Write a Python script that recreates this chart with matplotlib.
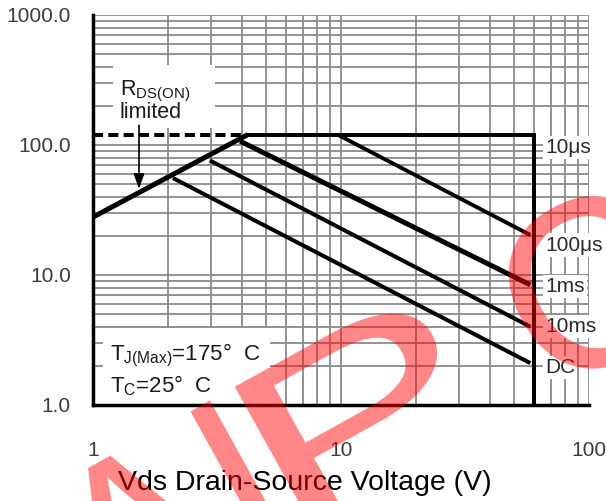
import matplotlib
matplotlib.use("Agg")
import matplotlib.pyplot as plt
from matplotlib.ticker import NullFormatter
from matplotlib.textpath import TextPath
from matplotlib.patches import PathPatch, Rectangle
from matplotlib.font_manager import FontProperties
from matplotlib.transforms import Affine2D

plt.rcParams['font.family'] = ['Liberation Sans', 'DejaVu Sans']
plt.rcParams['mathtext.fontset'] = 'custom'
plt.rcParams['mathtext.rm'] = 'Liberation Sans'
plt.rcParams['mathtext.it'] = 'Liberation Sans:italic'

# ---- SOA data (Vds in V, Id in A) ----
rds_v = [1.0, 4.2]            # RDS(on) limit line
rds_i = [27.9, 120.0]
dash_v = [1.0, 4.2]           # Id(max) extension to the left
dash_i = [120.0, 120.0]
env_v = [4.2, 60.0, 60.0]     # 10us envelope: Id max then BVdss
env_i = [120.0, 120.0, 1.0]

pulse_v = [[9.7, 58.0], [3.92, 58.0], [2.96, 58.0], [2.1, 58.0]]   # 100us, 1ms, 10ms, DC
pulse_i = [[120.0, 20.3], [107.0, 8.4], [76.0, 4.0], [55.7, 2.1]]
pulse_lw = [2.8, 3.6, 2.9, 2.9]

curve_labels = ['10\u03bcs', '100\u03bcs', '1ms', '10ms', 'DC']
curve_label_i = [95.0, 17.0, 8.1, 4.0, 1.93]

yticks = [1, 10, 100, 1000]
yticklabels = ['1.0', '10.0', '100.0', '1000.0']
xticks = [1, 10, 100]
xticklabels = ['1', '10', '100']

fig = plt.figure(figsize=(6.06, 5.01), dpi=100)
ax = fig.add_axes([93 / 606, 96 / 501, 496 / 606, 390 / 501])
ax.set_xscale('log')
ax.set_yscale('log')
ax.set_xlim(1, 100)
ax.set_ylim(1, 1000)

ax.set_axisbelow(True)
ax.grid(True, which='both', color='#8a8a8a', lw=1.3)

ax.set_yticks(yticks)
ax.set_yticklabels(yticklabels)
ax.set_xticks(xticks)
ax.set_xticklabels(xticklabels)
ax.xaxis.set_minor_formatter(NullFormatter())
ax.yaxis.set_minor_formatter(NullFormatter())
ax.tick_params(which='both', length=0)
ax.tick_params(axis='y', pad=16, labelsize=15, labelcolor='#3c3c3c')
ax.tick_params(axis='x', pad=26, labelsize=15, labelcolor='#3c3c3c')

for side in ['top', 'right']:
    ax.spines[side].set_visible(False)
for side in ['left', 'bottom']:
    ax.spines[side].set_linewidth(2.5)
    ax.spines[side].set_color('black')
    ax.spines[side].set_zorder(4)

ax.set_xlabel('Vds Drain-Source Voltage (V)', fontsize=20.5, color='black', labelpad=7)
ax.xaxis.label.set_x(0.427)

# white boxes behind the annotations
ax.add_patch(Rectangle((0.040, 0.710), 0.205, 0.162, transform=ax.transAxes,
                       facecolor='white', edgecolor='none', zorder=1))
ax.add_patch(Rectangle((0.020, 0.0), 0.337, 0.197, transform=ax.transAxes,
                       facecolor='white', edgecolor='none', zorder=1))

# curves
ax.plot(rds_v, rds_i, color='black', lw=3.6, solid_capstyle='butt', zorder=3)
ax.plot(dash_v, dash_i, color='black', lw=2.9, dashes=(2.5, 1.3), zorder=3)
ax.plot(env_v, env_i, color='black', lw=2.9, solid_joinstyle='miter', zorder=3)
for v, i, lw in zip(pulse_v, pulse_i, pulse_lw):
    ax.plot(v, i, color='black', lw=lw, solid_capstyle='butt', zorder=3)

for name, yi in zip(curve_labels, curve_label_i):
    ax.text(66.5, yi, name, fontsize=15, color='#2a2a2a', va='center', ha='left',
            bbox=dict(facecolor='white', edgecolor='none', pad=1.5), zorder=3)

ax.text(0.054, 0.795, r'R$_{\mathrm{DS(ON)}}$', transform=ax.transAxes,
        fontsize=15.5, color='#1a1a1a', va='baseline', ha='left', zorder=3)
ax.text(0.054, 0.736, 'limited', transform=ax.transAxes,
        fontsize=15.5, color='#1a1a1a', va='baseline', ha='left', zorder=3)
ax.annotate('', xy=(1.533, 46), xytext=(1.533, 142),
            arrowprops=dict(arrowstyle='-|>,head_length=0.5,head_width=0.18',
                            color='black', lw=1.2, mutation_scale=18,
                            shrinkA=0, shrinkB=0), zorder=3)

ax.text(0.034, 0.115, 'T$_{\\mathrm{J(Max)}}$=175\u00b0  C', transform=ax.transAxes,
        fontsize=16, color='#1a1a1a', va='baseline', ha='left', zorder=3)
ax.text(0.034, 0.033, 'T$_{\\mathrm{C}}$=25\u00b0  C', transform=ax.transAxes,
        fontsize=16, color='#1a1a1a', va='baseline', ha='left', zorder=3)

# red watermark letters, rotated, in figure pixels
fp = FontProperties(family='Liberation Sans')
marks = [('A', 108.8, -144.4, 1.0), ('I', 251.1, -65.6, 1.0),
         ('P', 288.2, -45.0, 1.55), ('C', 552.1, 101.3, 1.0)]
for ch, x0, y0, sx in marks:
    path = TextPath((0, 0), ch, size=240, prop=fp)
    tr = Affine2D().scale(sx, 1.0).rotate_deg(29).translate(x0, y0)
    fig.add_artist(PathPatch(path, transform=tr, facecolor=(1, 0, 0, 0.47),
                             edgecolor='none', zorder=10))

fig.savefig('out.png', dpi=100)
